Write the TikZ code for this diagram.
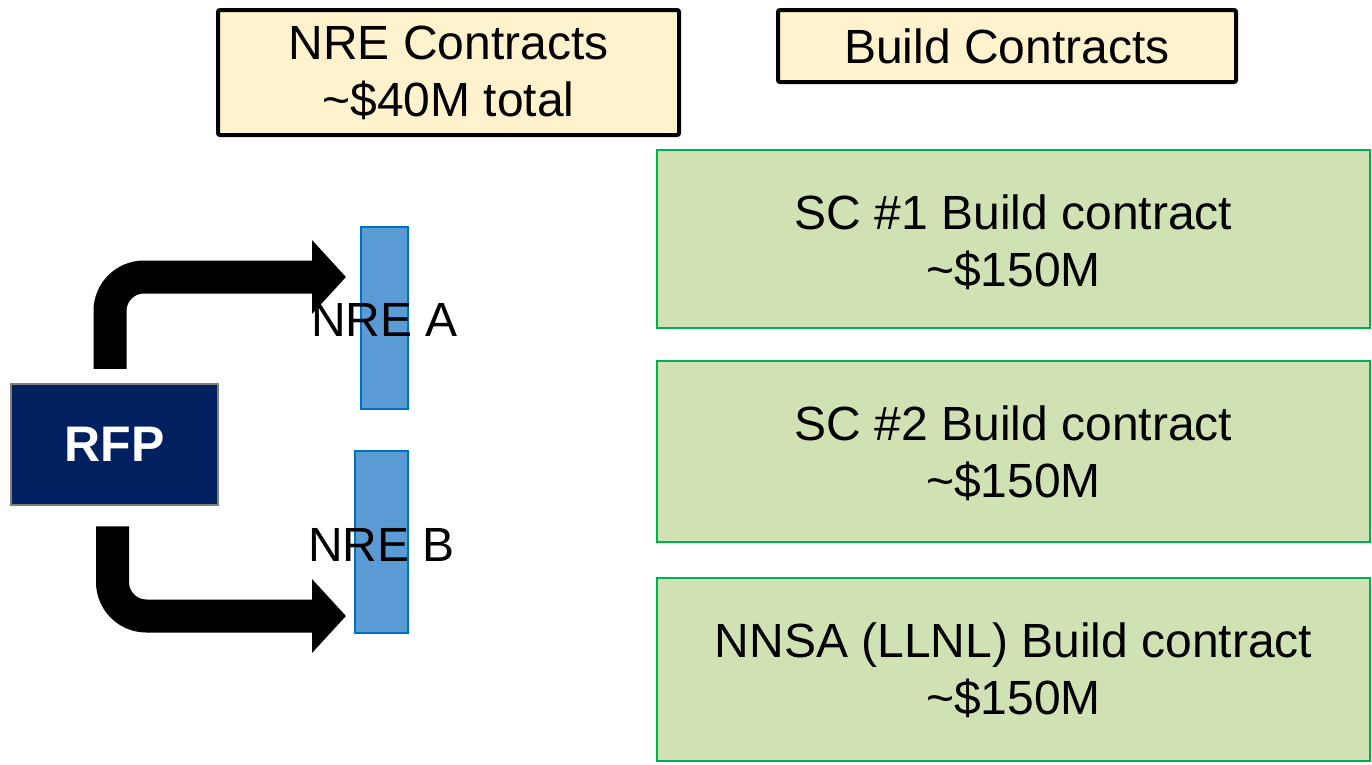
\documentclass[tikz,border=0pt]{standalone}
\usepackage{fontspec}
\setmainfont{Liberation Sans}
\usetikzlibrary{arrows.meta,calc}

\definecolor{headfill}{HTML}{FFF2CC}
\definecolor{buildfill}{HTML}{D0E2B4}
\definecolor{buildline}{HTML}{00B050}
\definecolor{rfpfill}{HTML}{002060}
\definecolor{rfpline}{HTML}{7F7F7F}
\definecolor{nrefill}{HTML}{5B9BD5}
\definecolor{nreline}{HTML}{0070C0}

\tikzset{
  every node/.style={inner sep=0pt, font=\fontsize{48}{57}\selectfont},
  header/.style={draw=black, line width=4pt, rounded corners=2pt, fill=headfill, align=center},
  buildbox/.style={draw=buildline, line width=2pt, fill=buildfill, align=center,
    minimum width=713pt},
  buildtext/.style={align=center},
  rfpbox/.style={draw=rfpline, line width=2.5pt, fill=rfpfill, text=white,
    font=\fontsize{50}{60}\selectfont\bfseries, minimum width=207pt, minimum height=121pt},
  nrebar/.style={draw=nreline, line width=2pt, fill=nrefill, minimum height=182pt},
  flowarrow/.style={line width=33pt, rounded corners=34pt, line cap=butt,
    -{Triangle[length=34pt, width=72pt]}},
}

\begin{document}
\begin{tikzpicture}[x=1pt, y=-1pt]
  \useasboundingbox (0,0) rectangle (1372,764);

  % column headers
  \node[header, minimum width=461pt, minimum height=125pt] (nrec) at (448.5,72.5)
    {NRE Contracts\\\textasciitilde\$40M total};
  \node[header, minimum width=458pt, minimum height=72pt] (buildc) at (1007,46)
    {Build Contracts};

  % build contracts (boxes, then their two-line texts)
  \node[buildbox, minimum height=178pt] (sc1) at (1013.5,239) {};
  \node[buildbox, minimum height=181pt] (sc2) at (1013.5,451.5) {};
  \node[buildbox, minimum height=183pt] (nnsa) at (1013.5,669.5) {};
  \node[buildtext] (sc1txt) at ([yshift=-3pt]sc1.center)
    {SC \#1 Build contract\\\textasciitilde\$150M};
  \node[buildtext] (sc2txt) at ([yshift=-2pt]sc2.center)
    {SC \#2 Build contract\\\textasciitilde\$150M};
  \node[buildtext] (nnsatxt) at ([yshift=-1pt]nnsa.center)
    {NNSA (LLNL) Build contract\\\textasciitilde\$150M};

  % request for proposals
  \node[rfpbox] (rfp) at (114.5,444.5) {RFP};

  % NRE bars and their labels
  \node[nrebar, minimum width=47pt] (nreA) at (384.5,318) {};
  \node[nrebar, minimum width=53pt] (nreB) at (381.5,542) {};
  \node (nreAlbl) at ([yshift=-2pt]nreA.center) {NRE A};
  \node (nreBlbl) at ([yshift=-3pt]nreB.center) {NRE B};

  % arrows from the RFP to each NRE contract
  \draw[flowarrow] ([xshift=-4.5pt, yshift=14pt]rfp.north)
    |- ([xshift=-14pt, yshift=41pt]nreA.west);
  \draw[flowarrow] ([xshift=-2pt, yshift=-20pt]rfp.south)
    |- ([xshift=-8pt, yshift=-74pt]nreB.west);
\end{tikzpicture}
\end{document}
